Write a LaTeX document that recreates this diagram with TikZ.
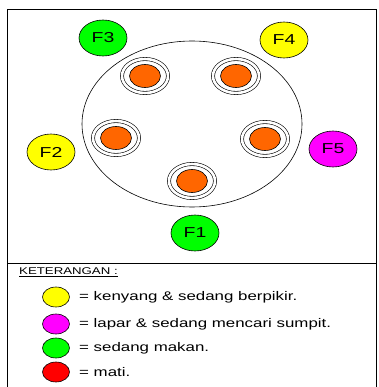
\documentclass[tikz,border=0pt]{standalone}
\usepackage{fontspec}
\setmainfont{Liberation Sans}
\usetikzlibrary{shapes.geometric}
\usetikzlibrary{calc,positioning}

\definecolor{kuning}{RGB}{255,255,0}
\definecolor{ungu}{RGB}{255,0,255}
\definecolor{hijau}{RGB}{0,255,0}
\definecolor{merah}{RGB}{255,0,0}
\definecolor{nasi}{RGB}{255,102,0}

% text in the reference is stretched sideways
\newcommand{\lebar}[1]{\scalebox{1.35}[1]{#1}}

\tikzset{
  filsuf/.style={ellipse, draw, line width=0.6pt, minimum width=48pt, minimum height=36pt,
    inner sep=0pt, font=\fontsize{14.4}{16}\selectfont},
  piring/.style={ellipse, draw, line width=0.6pt, double=white, double distance=2.6pt,
    minimum width=46pt, minimum height=34pt, inner sep=0pt},
  isi/.style={ellipse, draw, line width=0.6pt, fill=nasi, minimum width=31pt,
    minimum height=23pt, inner sep=0pt},
  tanda/.style={ellipse, draw, line width=0.6pt, minimum width=27pt, minimum height=20pt,
    inner sep=0pt},
  ket/.style={anchor=west, inner sep=0pt, font=\fontsize{12.5}{14}\selectfont},
}

\begin{document}
\begin{tikzpicture}[x=1pt, y=-1pt]

    \useasboundingbox (0,0) rectangle (378,387);

    % frame
    \draw[line width=0.8pt] (7,387) -- (7,9) -- (376.5,9) -- (376.5,387);
    \draw[line width=0.8pt] (7,263) -- (376.5,263);

    % meja
    \draw[line width=0.6pt] (192,124) ellipse [x radius=110, y radius=83];

    % piring
    \foreach \n/\x/\y in {1/192/181, 2/116/138, 3/145/76, 4/236/76, 5/265/139}{
        \node[piring] (p\n) at (\x,\y) {};
        \node[isi] (n\n) at (p\n) {};
    }

    % filsuf
    \node[filsuf, fill=hijau] (F1) at (195,233) {\lebar{F1}};
    \node[filsuf, fill=kuning] (F2) at (51,152) {\lebar{F2}};
    \node[filsuf, fill=hijau] (F3) at (103,38) {\lebar{F3}};
    \node[filsuf, fill=kuning] (F4) at (284,40) {\lebar{F4}};
    \node[filsuf, fill=ungu] (F5) at (333,149) {\lebar{F5}};

    % keterangan
    \node[anchor=west, inner sep=0pt, font=\fontsize{9.8}{11}\selectfont] (judul) at (19,272)
        {\lebar{\underline{KETERANGAN :}}};

    \node[tanda, fill=kuning] (t1) at (56,297) {};
    \node[tanda, fill=ungu] (t2) at (56,324) {};
    \node[tanda, fill=hijau] (t3) at (56,348) {};
    \node[tanda, fill=merah] (t4) at (56,372) {};

    \node[ket] (k1) at (79,297) {\lebar{= kenyang \& sedang berpikir.}};
    \node[ket] (k2) at (79,324) {\lebar{= lapar \& sedang mencari sumpit.}};
    \node[ket] (k3) at (79,348) {\lebar{= sedang makan.}};
    \node[ket] (k4) at (79,372) {\lebar{= mati.}};

\end{tikzpicture}
\end{document}
